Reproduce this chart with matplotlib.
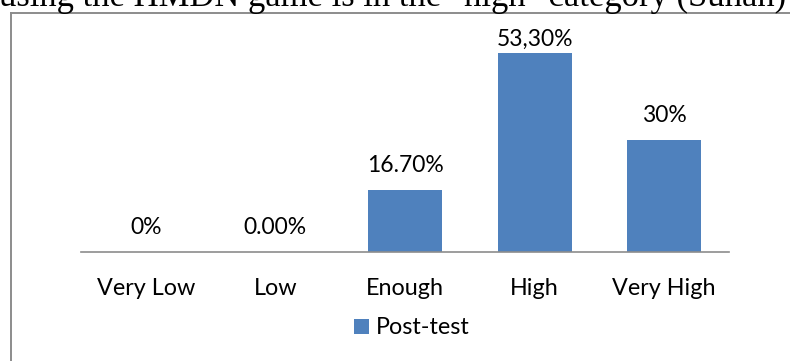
import matplotlib
matplotlib.use('Agg')
import matplotlib.pyplot as plt
from matplotlib.lines import Line2D
from matplotlib.patches import Patch

# Data
categories = ['Very Low', 'Low', 'Enough', 'High', 'Very High']
postTest = [0, 0, 16.7, 53.3, 30]
valueLabels = ['0%', '0.00%', '16.70%', '53,30%', '30%']
seriesName = 'Post-test'
headerText = 'using the HMDN game is in the "high" category (Suhan)'

W, H = 790, 361
barColor = '#4F81BD'
boxColor = '#8C8C8C'

plt.rcParams['font.family'] = ['Lato', 'DejaVu Sans']

fig = plt.figure(figsize=(W / 100, H / 100), dpi=100)

# pixel helpers (origin at top-left, like the screenshot)
def fx(px):
    return px / W

def fy(py):
    return 1 - py / H

# plot area: baseline at y=252, top of the plot area at y=32, x from 81 to 729
ax = fig.add_axes([fx(81), fy(252), fx(729) - fx(81), fy(32) - fy(252)])
yMax = 58.9
ax.set_xlim(-0.5, len(categories) - 0.5)
ax.set_ylim(0, yMax)

xs = range(len(categories))
ax.bar(xs, postTest, width=0.57, color=barColor, zorder=2)

# value labels, clamped so they stay inside the plot area
pxPerUnit = (252 - 32) / yMax
for x, v, lbl in zip(xs, postTest, valueLabels):
    y = min(v + 18 / pxPerUnit, yMax - 14 / pxPerUnit)
    ax.text(x, y, lbl, ha='center', va='baseline', fontsize=16.5, color='#000000')

for side in ['top', 'right', 'left']:
    ax.spines[side].set_visible(False)
ax.spines['bottom'].set_color(boxColor)
ax.spines['bottom'].set_linewidth(1.2)
ax.set_yticks([])
ax.set_xticks(list(xs))
ax.set_xticklabels(categories, fontsize=16.8)
ax.tick_params(axis='x', length=0, pad=31)
for t in ax.get_xticklabels():
    t.set_va('baseline')

handle = Patch(facecolor=barColor, edgecolor='none')
fig.legend([handle], [seriesName], loc='center', bbox_to_anchor=(fx(412), fy(328)),
           frameon=False, fontsize=16.8, handlelength=0.65, handleheight=0.65,
           handletextpad=0.3, borderpad=0)

# chart border (only left and top are visible in the crop)
fig.add_artist(Line2D([fx(11), fx(11)], [fy(13), fy(H + 2)], color=boxColor, linewidth=1.4))
fig.add_artist(Line2D([fx(11), fx(W + 2)], [fy(13), fy(13)], color=boxColor, linewidth=1.4))

# clipped line of document text above the chart, sized to run across the full width
header = fig.text(fx(-1), fy(6), headerText, ha='left', va='baseline', fontsize=20,
                  family='Liberation Serif', color='#000000')
renderer = fig.canvas.get_renderer()
textWidth = header.get_window_extent(renderer).width
header.set_fontsize(20 * 786 / textWidth)

fig.savefig('out.png', dpi=100)
